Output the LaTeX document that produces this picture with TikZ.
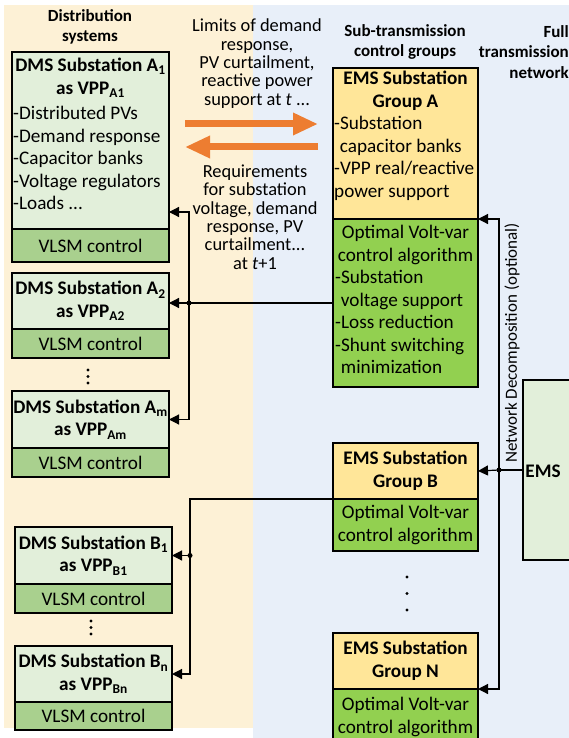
\documentclass[tikz,border=0pt]{standalone}
\usepackage{fontspec}
\setmainfont{Carlito}
\usetikzlibrary{arrows.meta}
\definecolor{distbg}{RGB}{253,241,214}
\definecolor{transbg}{RGB}{232,239,249}
\definecolor{dmsgreen}{RGB}{226,239,218}
\definecolor{vlsmgreen}{RGB}{169,208,142}
\definecolor{emsyellow}{RGB}{255,230,153}
\definecolor{algogreen}{RGB}{146,208,80}
\definecolor{flowarrow}{RGB}{237,125,49}
\tikzset{
  box/.style={draw,line width=1.6pt,anchor=north west,inner sep=0pt,outer sep=0pt},
  dmsbox/.style={box,fill=dmsgreen,minimum width=157pt},
  vlsmbox/.style={box,fill=vlsmgreen,minimum width=157pt,minimum height=33pt},
  emshead/.style={box,fill=emsyellow,minimum width=145pt},
  emsalgo/.style={box,fill=algogreen,minimum width=145pt},
  boxtxt/.style={inner sep=0pt,font=\fontsize{19.2}{22.5}\selectfont},
  boldtxt/.style={boxtxt,align=center,font=\bfseries\fontsize{19.2}{22.5}\selectfont},
  smalltxt/.style={inner sep=0pt,align=center,font=\fontsize{18.4}{18.4}\selectfont},
  headtxt/.style={inner sep=0pt,font=\bfseries\fontsize{17}{20.5}\selectfont},
  link/.style={line width=1.2pt},
  tolink/.style={link,-{Triangle[length=10pt,width=10pt]}},
  flow/.style={flowarrow,line width=7pt,-{Triangle[length=25pt,width=21pt]}},
  junction/.style={circle,fill,inner sep=0pt,minimum size=5pt}
}
\begin{document}
\begin{tikzpicture}[x=1pt,y=-1pt]
\useasboundingbox (0,0) rectangle (569,738);
\fill[distbg] (4,5) rectangle (253,728); % distribution side
\fill[transbg] (253,5) rectangle (569,738); % transmission side

% headers
\node[headtxt,align=center] (hdist) at (90,27) {Distribution\\systems};
\node[headtxt,align=center] (hsub) at (405,42) {Sub-transmission\\control groups};
\node[headtxt,align=right,anchor=east] (hfull) at (569,52) {Full\\transmission\\network};

% DMS substations, group A
\node[dmsbox,minimum height=177pt] (a1) at (12,52) {};
\node[vlsmbox] (a1c) at (a1.south west) {};
\node[boldtxt,anchor=north] at (90.5,58) {DMS Substation A\textsubscript{1}\\as VPP\textsubscript{A1}};
\node[boxtxt,align=left,anchor=north west] at (13,106) {-Distributed PVs\\-Demand response\\-Capacitor banks\\-Voltage regulators\\-Loads ...};
\node[boxtxt] at (a1c) {VLSM control};

\node[dmsbox,minimum height=56pt] (a2) at (12,273) {};
\node[vlsmbox,minimum height=29pt] (a2c) at (a2.south west) {};
\node[boldtxt] at (a2) {DMS Substation A\textsubscript{2}\\as VPP\textsubscript{A2}};
\node[boxtxt] at (a2c) {VLSM control};
\foreach \i in {0,1,2} \fill (88,370+6.5*\i) circle (1.6pt);

\node[dmsbox,minimum height=57pt] (am) at (12,391) {};
\node[vlsmbox,minimum height=29pt] (amc) at (am.south west) {};
\node[boldtxt] at (am) {DMS Substation A\textsubscript{m}\\as VPP\textsubscript{Am}};
\node[boxtxt] at (amc) {VLSM control};

% DMS substations, group B
\node[dmsbox,minimum height=57pt] (b1) at (15,527) {};
\node[vlsmbox,minimum height=29pt] (b1c) at (b1.south west) {};
\node[boldtxt] at (b1) {DMS Substation B\textsubscript{1}\\as VPP\textsubscript{B1}};
\node[boxtxt] at (b1c) {VLSM control};
\foreach \i in {0,1,2} \fill (91,621+6.5*\i) circle (1.6pt);

\node[dmsbox,minimum height=56pt] (bn) at (15,646) {};
\node[vlsmbox,minimum height=28pt] (bnc) at (bn.south west) {};
\node[boldtxt] at (bn) {DMS Substation B\textsubscript{n}\\as VPP\textsubscript{Bn}};
\node[boxtxt] at (bnc) {VLSM control};

% EMS substation groups
\node[emshead,minimum height=151pt] (ga) at (333,68) {};
\node[emsalgo,minimum height=168pt] (gaalgo) at (ga.south west) {};
\node[boldtxt,anchor=north] at (405.5,71) {EMS Substation\\Group A};
\node[boxtxt,align=left,anchor=north west] at (334,116) {-Substation\\\hspace*{0.3em}capacitor banks\\-VPP real/reactive\\power support};
\node[boxtxt,align=center,anchor=north] at (405.5,225) {Optimal Volt-var\\control algorithm};
\node[boxtxt,align=left,anchor=north west] at (335,270) {-Substation\\\hspace*{0.3em}voltage support\\-Loss reduction\\-Shunt switching\\\hspace*{0.3em}minimization};

\node[emshead,minimum height=56pt] (gb) at (333,443) {};
\node[emsalgo,minimum height=52pt] (gbalgo) at (gb.south west) {};
\node[boldtxt] at (gb) {EMS Substation\\Group B};
\node[boxtxt,align=center] at (gbalgo) {Optimal Volt-var\\control algorithm};
\foreach \i in {0,1,2} \fill (407,577+16.5*\i) circle (1.6pt);

\node[emshead,minimum height=56pt] (gn) at (333,633) {};
\node[emsalgo,minimum height=56pt] (gnalgo) at (gn.south west) {};
\node[boldtxt] at (gn) {EMS Substation\\Group N};
\node[boxtxt,align=center] at (gnalgo) {Optimal Volt-var\\control algorithm};

% full transmission EMS
\node[box,fill=dmsgreen,minimum width=55pt,minimum height=180pt] (ems) at (523,380) {};
\node[boldtxt] at (543,471) {EMS};

% exchanged information
\node[smalltxt] (limits) at (257,63.5) {Limits of demand\\response,\\PV curtailment,\\reactive power\\support at \textit{t} ...};
\node[smalltxt] (reqs) at (255,217) {Requirements\\for substation\\voltage, demand\\response, PV\\curtailment...\\at \textit{t}+1};
\coordinate (fl) at (185,124);
\coordinate (fr) at (318,124);
\draw[flow] (fl) -- (fr);
\draw[flow] ([yshift=-23pt]fr) -- ([yshift=-23pt]fl);

% links group A
\coordinate (ja) at (189,303);
\draw[link] (gaalgo.west) -- (ja);
\draw[tolink] (ja) |- ([yshift=17pt]a1.south east);
\draw[tolink] (ja) -- (ja -| a2.east);
\draw[tolink] (ja) |- (am.east);
\node[junction] at (ja) {};

% links group B
\coordinate (kb) at (190,499);
\coordinate (jb) at (190,555.5);
\draw[link] (gb.south west) -- (kb) -- (jb);
\draw[tolink] (jb) -- (b1.east);
\draw[tolink] (jb) |- (bn.east);
\node[junction] at (jb) {};

% network decomposition
\coordinate (je) at (499,470);
\draw[link] (ems.west) -- (je);
\draw[tolink] (je) -- (gb.east);
\draw[tolink] (je) |- (ga.south east);
\draw[tolink] (je) |- (gn.south east);
\node[junction] at (je) {};
\node[rotate=90,inner sep=0pt,font=\fontsize{17}{18}\selectfont] at (512,343) {Network Decomposition (optional)};
\end{tikzpicture}
\end{document}
